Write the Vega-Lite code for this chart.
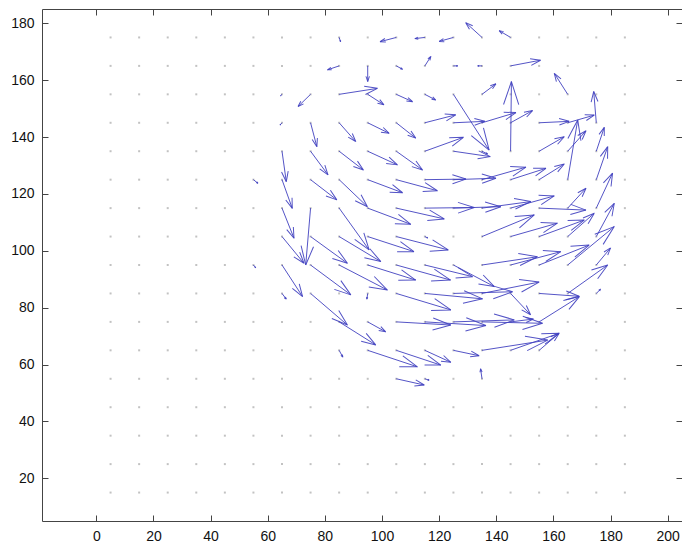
{
  "$schema": "https://vega.github.io/schema/vega-lite/v6.json",
  "width": 640,
  "height": 512,
  "autosize": {"type": "none"},
  "padding": {"left": 42, "top": 9, "right": 0, "bottom": 23},
  "background": "white",
  "config": {
    "view": {"stroke": null},
    "axis": {
      "grid": false,
      "title": null,
      "domainColor": "#444444",
      "tickColor": "#444444",
      "labelFont": "Liberation Sans",
      "labelFontSize": 14,
      "labelColor": "#111111",
      "tickSize": -6,
      "labelPadding": 14
    }
  },
  "datasets": {
    "grid": [
      {"y": 15, "xs": [5,15,25,35,45,55,65,75,85,95,105,115,125,135,145,155,165,175,185]},
      {"y": 25, "xs": [5,15,25,35,45,55,65,75,85,95,105,115,125,135,145,155,165,175,185]},
      {"y": 35, "xs": [5,15,25,35,45,55,65,75,85,95,105,115,125,135,145,155,165,175,185]},
      {"y": 45, "xs": [5,15,25,35,45,55,65,75,85,95,105,115,125,135,145,155,165,175,185]},
      {"y": 55, "xs": [5,15,25,35,45,55,65,75,85,95,105,115,125,135,145,155,165,175,185]},
      {"y": 65, "xs": [5,15,25,35,45,55,65,75,85,95,105,115,125,135,145,155,165,175,185]},
      {"y": 75, "xs": [5,15,25,35,45,55,65,75,85,95,105,115,125,135,145,155,165,175,185]},
      {"y": 85, "xs": [5,15,25,35,45,55,65,75,85,95,105,115,125,135,145,155,165,175,185]},
      {"y": 95, "xs": [5,15,25,35,45,55,65,75,85,95,105,115,125,135,145,155,165,175,185]},
      {"y": 105, "xs": [5,15,25,35,45,55,65,75,85,95,105,115,125,135,145,155,165,175,185]},
      {"y": 115, "xs": [5,15,25,35,45,55,65,75,85,95,105,115,125,135,145,155,165,175,185]},
      {"y": 125, "xs": [5,15,25,35,45,55,65,75,85,95,105,115,125,135,145,155,165,175,185]},
      {"y": 135, "xs": [5,15,25,35,45,55,65,75,85,95,105,115,125,135,145,155,165,175,185]},
      {"y": 145, "xs": [5,15,25,35,45,55,65,75,85,95,105,115,125,135,145,155,165,175,185]},
      {"y": 155, "xs": [5,15,25,35,45,55,65,75,85,95,105,115,125,135,145,155,165,175,185]},
      {"y": 165, "xs": [5,15,25,35,45,55,65,75,85,95,105,115,125,135,145,155,165,175,185]},
      {"y": 175, "xs": [5,15,25,35,45,55,65,75,85,95,105,115,125,135,145,155,165,175,185]}
    ],
    "arrows": [
      {"x": 85, "y": 175, "u": 0.5, "v": -1.5},
      {"x": 105, "y": 175, "u": -5.7, "v": -1.5},
      {"x": 115, "y": 175, "u": -3.5, "v": -0.4},
      {"x": 125, "y": 175, "u": -5, "v": -1.4},
      {"x": 135, "y": 175, "u": -5.7, "v": 5.2},
      {"x": 145, "y": 175, "u": -4, "v": 2.4},

      {"x": 85, "y": 165, "u": -4.1, "v": -1.4},
      {"x": 95, "y": 165, "u": 0, "v": -5.5},
      {"x": 105, "y": 165, "u": 2.2, "v": -1.2},
      {"x": 115, "y": 165, "u": 2.1, "v": 3.3},
      {"x": 125, "y": 165, "u": 1.5, "v": 0},
      {"x": 135, "y": 165, "u": -1.5, "v": 0},
      {"x": 145, "y": 165, "u": 10.5, "v": 2},

      {"x": 65, "y": 155, "u": -0.5, "v": -0.5},
      {"x": 75, "y": 155, "u": -4.4, "v": -4.3},
      {"x": 85, "y": 155, "u": 13.4, "v": 2.1},
      {"x": 95, "y": 155, "u": 5.7, "v": -3.7},
      {"x": 105, "y": 155, "u": 5.7, "v": -2.6},
      {"x": 115, "y": 155, "u": 3.8, "v": -2},
      {"x": 125, "y": 155, "u": 12.5, "v": -19.6},
      {"x": 135, "y": 155, "u": 4.9, "v": 3.7},
      {"x": 165, "y": 155, "u": -4.7, "v": 7.4},

      {"x": 65, "y": 145, "u": -0.7, "v": -0.8},
      {"x": 75, "y": 145, "u": 2.2, "v": -8.4},
      {"x": 85, "y": 145, "u": 5.8, "v": -6.6},
      {"x": 95, "y": 145, "u": 7.5, "v": -3.7},
      {"x": 105, "y": 145, "u": 6.8, "v": -5.4},
      {"x": 115, "y": 145, "u": 10.8, "v": 2.8},
      {"x": 125, "y": 145, "u": 11, "v": 0.5},
      {"x": 135, "y": 145, "u": 11.9, "v": 3.6},
      {"x": 145, "y": 145, "u": 7.7, "v": 4.3},
      {"x": 155, "y": 145, "u": 10.5, "v": 0.5},
      {"x": 165, "y": 145, "u": 9.3, "v": 2.7},
      {"x": 175, "y": 145, "u": -0.9, "v": 11},

      {"x": 65, "y": 135, "u": 1.5, "v": -10.7},
      {"x": 75, "y": 135, "u": 6.1, "v": -8.3},
      {"x": 85, "y": 135, "u": 8.5, "v": -6.6},
      {"x": 95, "y": 135, "u": 10.4, "v": -4.8},
      {"x": 105, "y": 135, "u": 9.2, "v": -6.6},
      {"x": 115, "y": 135, "u": 13.5, "v": 4.9},
      {"x": 125, "y": 135, "u": 12.9, "v": -1.9},
      {"x": 135, "y": 135, "u": 2, "v": -1},
      {"x": 145, "y": 135, "u": 0.3, "v": 24.5},
      {"x": 155, "y": 135, "u": 8.8, "v": 5.1},
      {"x": 165, "y": 135, "u": 6.4, "v": 7.2},
      {"x": 175, "y": 135, "u": 2.8, "v": 8.4},

      {"x": 55, "y": 125, "u": 1.6, "v": -1.3},
      {"x": 65, "y": 125, "u": 3.6, "v": -10.1},
      {"x": 75, "y": 125, "u": 9.2, "v": -7.1},
      {"x": 85, "y": 125, "u": 9.9, "v": -9.5},
      {"x": 95, "y": 125, "u": 12.2, "v": -4.6},
      {"x": 105, "y": 125, "u": 14.4, "v": -3.9},
      {"x": 115, "y": 125, "u": 14.4, "v": 0.2},
      {"x": 125, "y": 125, "u": 14.9, "v": 0.5},
      {"x": 135, "y": 125, "u": 15.4, "v": 4.4},
      {"x": 145, "y": 125, "u": 12.4, "v": 4},
      {"x": 155, "y": 125, "u": 8.8, "v": 5.5},
      {"x": 165, "y": 125, "u": 3.5, "v": 21},
      {"x": 175, "y": 125, "u": 4, "v": 11.6},

      {"x": 65, "y": 115, "u": 4.2, "v": -10.6},
      {"x": 75, "y": 115, "u": -1.7, "v": -20},
      {"x": 85, "y": 115, "u": 10.5, "v": -14.7},
      {"x": 95, "y": 115, "u": 15.1, "v": -5.7},
      {"x": 105, "y": 115, "u": 16.8, "v": -3.8},
      {"x": 115, "y": 115, "u": 17.3, "v": 0.2},
      {"x": 125, "y": 115, "u": 16.6, "v": 0.5},
      {"x": 135, "y": 115, "u": 17.1, "v": 2.3},
      {"x": 145, "y": 115, "u": 15.3, "v": 4.3},
      {"x": 155, "y": 115, "u": 16.4, "v": -0.7},
      {"x": 165, "y": 115, "u": 6.4, "v": 7},
      {"x": 175, "y": 115, "u": 5.7, "v": 12.3},

      {"x": 65, "y": 105, "u": 7.7, "v": -9.4},
      {"x": 75, "y": 105, "u": 12.9, "v": -9.4},
      {"x": 85, "y": 105, "u": 14.6, "v": -8.8},
      {"x": 95, "y": 105, "u": 16.2, "v": -5.3},
      {"x": 105, "y": 105, "u": 18.2, "v": -4.7},
      {"x": 115, "y": 105, "u": 1, "v": -0.5},
      {"x": 135, "y": 105, "u": 18.3, "v": 7.6},
      {"x": 145, "y": 105, "u": 16.4, "v": 4.7},
      {"x": 155, "y": 105, "u": 15.8, "v": 5.8},
      {"x": 165, "y": 105, "u": 9.3, "v": 8.2},
      {"x": 175, "y": 105, "u": 6.3, "v": 11.7},

      {"x": 55, "y": 95, "u": 0.8, "v": -1},
      {"x": 65, "y": 95, "u": 7.2, "v": -11.1},
      {"x": 75, "y": 95, "u": 14.1, "v": -10.5},
      {"x": 85, "y": 95, "u": 16.9, "v": -8.8},
      {"x": 95, "y": 95, "u": 16.8, "v": -5.3},
      {"x": 105, "y": 95, "u": 19, "v": -5.3},
      {"x": 115, "y": 95, "u": 16.7, "v": -4.1},
      {"x": 125, "y": 95, "u": 14.3, "v": -7.6},
      {"x": 135, "y": 95, "u": 19.4, "v": 2.9},
      {"x": 145, "y": 95, "u": 17.6, "v": 4.7},
      {"x": 155, "y": 95, "u": 17.5, "v": 7},
      {"x": 165, "y": 95, "u": 16.3, "v": 13.5},
      {"x": 175, "y": 95, "u": 5, "v": 6},

      {"x": 65, "y": 85, "u": 1.5, "v": -2},
      {"x": 75, "y": 85, "u": 12.9, "v": -11.1},
      {"x": 95, "y": 85, "u": -0.3, "v": -2},
      {"x": 105, "y": 85, "u": 19.1, "v": -5.8},
      {"x": 115, "y": 85, "u": 20.2, "v": -1.9},
      {"x": 125, "y": 85, "u": 20.7, "v": 0.6},
      {"x": 135, "y": 85, "u": 20, "v": 4},
      {"x": 145, "y": 85, "u": 7, "v": -7.5},
      {"x": 155, "y": 85, "u": 14, "v": -1},
      {"x": 165, "y": 85, "u": 14, "v": 10},
      {"x": 175, "y": 85, "u": 1.5, "v": 1.5},

      {"x": 85, "y": 75, "u": 12.8, "v": -8.1},
      {"x": 95, "y": 75, "u": 6.3, "v": -3.5},
      {"x": 105, "y": 75, "u": 19.1, "v": -1.1},
      {"x": 115, "y": 75, "u": 21.4, "v": -1.3},
      {"x": 125, "y": 75, "u": 21.3, "v": 0.7},
      {"x": 135, "y": 75, "u": 21.2, "v": -0.5},
      {"x": 145, "y": 75, "u": 8, "v": 1},
      {"x": 155, "y": 75, "u": 14.1, "v": 8.9},

      {"x": 85, "y": 65, "u": 1.3, "v": -2.4},
      {"x": 95, "y": 65, "u": 17.4, "v": -5.8},
      {"x": 105, "y": 65, "u": 15.6, "v": -5.2},
      {"x": 115, "y": 65, "u": 9.1, "v": -4.2},
      {"x": 125, "y": 65, "u": 9, "v": -1.9},
      {"x": 135, "y": 65, "u": 23, "v": 3.6},
      {"x": 145, "y": 65, "u": 17, "v": 6},
      {"x": 155, "y": 65, "u": 7, "v": 6},

      {"x": 105, "y": 55, "u": 9.8, "v": -2.2},
      {"x": 115, "y": 55, "u": 1.5, "v": -0.5},
      {"x": 135, "y": 55, "u": -0.5, "v": 3.5}
    ]
  },
  "layer": [
    {
      "data": {"name": "grid"},
      "transform": [{"flatten": ["xs"], "as": ["x"]}],
      "mark": {"type": "square", "size": 4, "color": "#c2c2c2", "opacity": 1},
      "encoding": {
        "x": {"field": "x", "type": "quantitative", "scale": {"domain": [-19, 205], "nice": false, "zero": false},
              "axis": {"orient": "bottom", "values": [0,20,40,60,80,100,120,140,160,180,200]}},
        "y": {"field": "y", "type": "quantitative", "scale": {"domain": [5, 185], "nice": false, "zero": false},
              "axis": {"orient": "left", "values": [20,40,60,80,100,120,140,160,180]}}
      }
    },
    {
      "data": {"name": "arrows"},
      "transform": [
        {"calculate": "datum.x + datum.u", "as": "ex"},
        {"calculate": "datum.y + datum.v", "as": "ey"}
      ],
      "mark": {"type": "rule", "color": "#4141c0", "strokeWidth": 1, "opacity": 0.9},
      "encoding": {
        "x": {"field": "x", "type": "quantitative", "scale": {"domain": [-19, 205], "nice": false, "zero": false},
              "axis": {"orient": "top", "labels": false, "values": [0,20,40,60,80,100,120,140,160,180,200]}},
        "y": {"field": "y", "type": "quantitative", "scale": {"domain": [5, 185], "nice": false, "zero": false},
              "axis": {"orient": "right", "labels": false, "domain": false, "values": [20,40,60,80,100,120,140,160,180]}},
        "x2": {"field": "ex"},
        "y2": {"field": "ey"}
      }
    },
    {
      "data": {"name": "arrows"},
      "transform": [
        {"calculate": "datum.x + datum.u", "as": "ex"},
        {"calculate": "datum.y + datum.v", "as": "ey"},
        {"calculate": "-atan2(datum.v, datum.u) * 180 / PI", "as": "ang"},
        {"calculate": "3.54 * (datum.u * datum.u + datum.v * datum.v)", "as": "sz"}
      ],
      "mark": {"type": "point", "shape": "M0,0L-1,-0.33M0,0L-1,0.33", "filled": false, "strokeWidth": 1, "color": "#4141c0", "opacity": 0.9},
      "encoding": {
        "x": {"field": "ex", "type": "quantitative", "scale": {"domain": [-19, 205], "nice": false, "zero": false}, "axis": null},
        "y": {"field": "ey", "type": "quantitative", "scale": {"domain": [5, 185], "nice": false, "zero": false}, "axis": null},
        "angle": {"field": "ang", "type": "quantitative", "scale": null},
        "size": {"field": "sz", "type": "quantitative", "scale": null}
      }
    }
  ],
  "resolve": {"axis": {"x": "independent", "y": "independent"}}
}
